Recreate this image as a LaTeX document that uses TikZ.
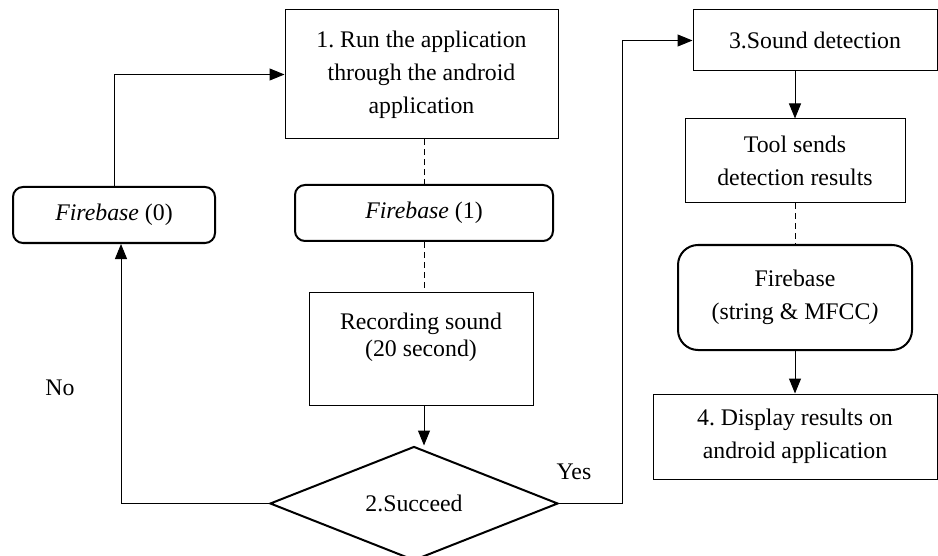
\documentclass[tikz,border=0pt]{standalone}
\usepackage{fontspec}
\setmainfont{Liberation Serif}
\usetikzlibrary{shapes.geometric,arrows.meta}
\frenchspacing

\begin{document}
\begin{tikzpicture}[x=0.5pt,y=-0.5pt,font=\fontsize{11.9pt}{16.5pt}\selectfont,
		box/.style={draw,line width=0.5pt,align=center,inner sep=0pt},
		fbox/.style={draw,line width=1pt,rounded corners=5pt,align=center,inner sep=0pt},
		decide/.style={draw,diamond,line width=1pt,inner sep=0pt},
		arr/.style={line width=0.5pt,-{Triangle[length=7.5pt,width=6pt]}},
		dsh/.style={line width=0.5pt,dash pattern=on 3pt off 2pt}]
			\useasboundingbox (0,0) rectangle (938,556);
			% left column
			\node[box,minimum width=136.5pt,minimum height=64.5pt] (run) at (421.5,74.5) {1. Run the application\\through the android\\application};
			\node[fbox,minimum width=101pt,minimum height=28pt] (fb0) at (114,215) {\textit{Firebase} (0)};
			\node[fbox,minimum width=129pt,minimum height=28pt] (fb1) at (424,213) {\textit{Firebase} (1)};
			\node[box,minimum width=112pt,minimum height=56.5pt] (rec) at (421,348.5) {Recording sound\\[-3pt](20 second)\\[-3pt]\mbox{}};
			\node[decide,minimum width=144pt,minimum height=51.5pt] (succ) at (414,503.5) {2.Succeed};
			% right column
			\node[box,minimum width=122pt,minimum height=30.5pt] (sound) at (815,40.5) {3.Sound detection};
			\node[box,minimum width=110pt,minimum height=42pt] (tool) at (795,161) {Tool sends\\detection results};
			\node[fbox,rounded corners=10pt,minimum width=117pt,minimum height=52.5pt] (fbm) at (795,297.5) {Firebase\\(string \& MFCC\textit{)}};
			\node[box,minimum width=142pt,minimum height=42.5pt] (disp) at (795,436.5) {4. Display results on\\android application};
			\node (no) at (60,388) {No};
			\node (yes) at (574,472) {Yes};
			\coordinate (noturn) at (121,503.5);
			\coordinate (yesturn) at (622,503.5);
			% connectors
			\draw[arr] (fb0.north) |- (run.west);
			\draw[dsh] (run.south -| fb1.north) -- (fb1.north);
			\draw[dsh] (fb1.south) -- (fb1.south |- rec.north);
			\draw[arr] (rec.south -| fb1.south) -- (fb1.south |- succ.north);
			\draw[arr] (succ.west) -- (noturn) -- (noturn |- fb0.south);
			\draw[arr] (succ.east) -- (yesturn) |- (sound.west);
			\draw[arr] (sound.south -| tool.north) -- (tool.north);
			\draw[dsh] (tool.south) -- (fbm.north);
			\draw[arr] (fbm.south) -- (disp.north);
		\end{tikzpicture}
\end{document}
